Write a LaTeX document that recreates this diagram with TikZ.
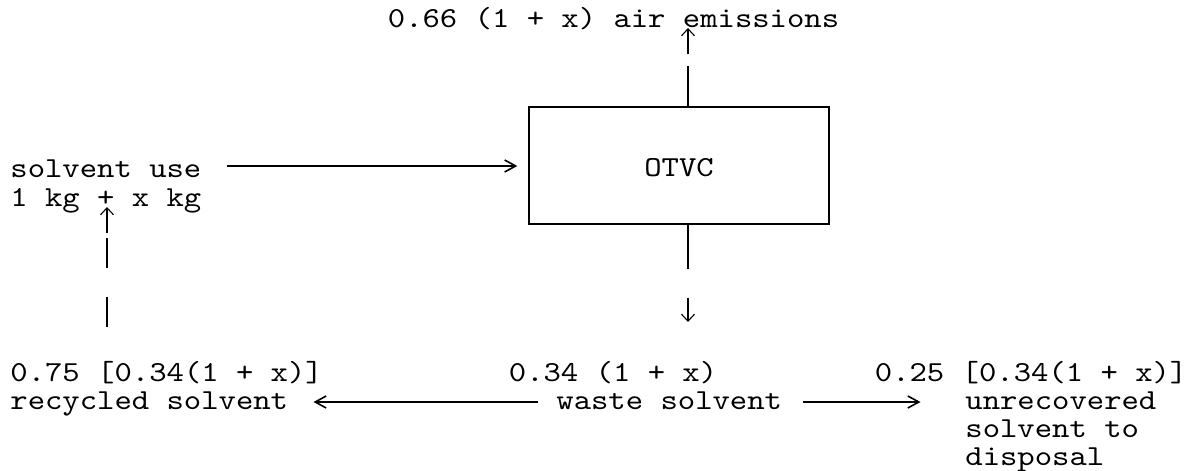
\documentclass[tikz,border=0pt]{standalone}
\usepackage{fontspec}
\usepackage{tikz}
\usetikzlibrary{
    arrows.meta,
    positioning,
    calc
}
\newfontfamily\asciifont{lmmono10-regular.otf}[FakeStretch=1.14]

\begin{document}
\begin{tikzpicture}[
    x=0.5pt, y=-0.5pt,
    txt/.style={anchor=base west, inner sep=0pt, font=\asciifont\fontsize{14.5pt}{14pt}\selectfont},
    unit/.style={draw, line width=0.7pt, minimum width=150pt, minimum height=58.5pt, text height=11.5pt, font=\asciifont\fontsize{14.5pt}{14pt}\selectfont},
    flow/.style={line width=0.55pt, -{Straight Barb[length=5.5pt, width=6pt, line width=0.8pt]}},
    rise/.style={line width=0.55pt, -{Straight Barb[length=3.5pt, width=6.5pt]}}
]
\useasboundingbox (0,0) rectangle (1195,471);

% Unit
\node[unit] (otvc) at (679,165.5) {OTVC};

% Inputs
\node[txt] (use) at (10,177) {solvent use};
\node[txt] (usekg) at (10,206) {1 kg + x kg};

% Outputs
\node[txt] (air) at (387.5,27) {0.66 (1 + x) air emissions};
\node[txt] (wasteamt) at (508.5,381) {0.34 (1 + x)};
\node[txt] (waste) at (556,409) {waste solvent};
\node[txt] (recamt) at (10,381) {0.75 [0.34(1 + x)]};
\node[txt] (rec) at (10,409) {recycled solvent};
\node[txt] (unrecamt) at (874.5,381) {0.25 [0.34(1 + x)]};
\node[txt, align=left] (unrec) at (965,465) {unrecovered\\solvent to\\disposal};

\draw[flow] ($(use.base east)+(25,-11)$) -- ($(otvc.west |- use.base)+(-11,-11)$);
\draw[rise, dash pattern=on 20pt off 6pt on 100pt] ($(otvc.north)+(9,0)$) -- ($(otvc.north |- air.base)+(9,1)$);
\draw[rise, dash pattern=on 22pt off 14.5pt on 100pt] ($(otvc.south)+(9,0)$) -- ($(otvc.south |- wasteamt.base)+(9,-59)$);
\draw[flow] ($(waste.base west)+(-18,-7)$) -- ($(rec.base east)+(25,-7)$);
\draw[flow] ($(waste.base east)+(21,-7)$) -- ($(unrecamt.base west |- waste.base)+(46,-7)$);
\draw[rise, dash pattern=on 15pt off 14.5pt on 15pt off 2.5pt on 100pt] ($(recamt.base west)+(97,-54)$) -- ($(usekg.base west)+(97,1)$);
\end{tikzpicture}
\end{document}
